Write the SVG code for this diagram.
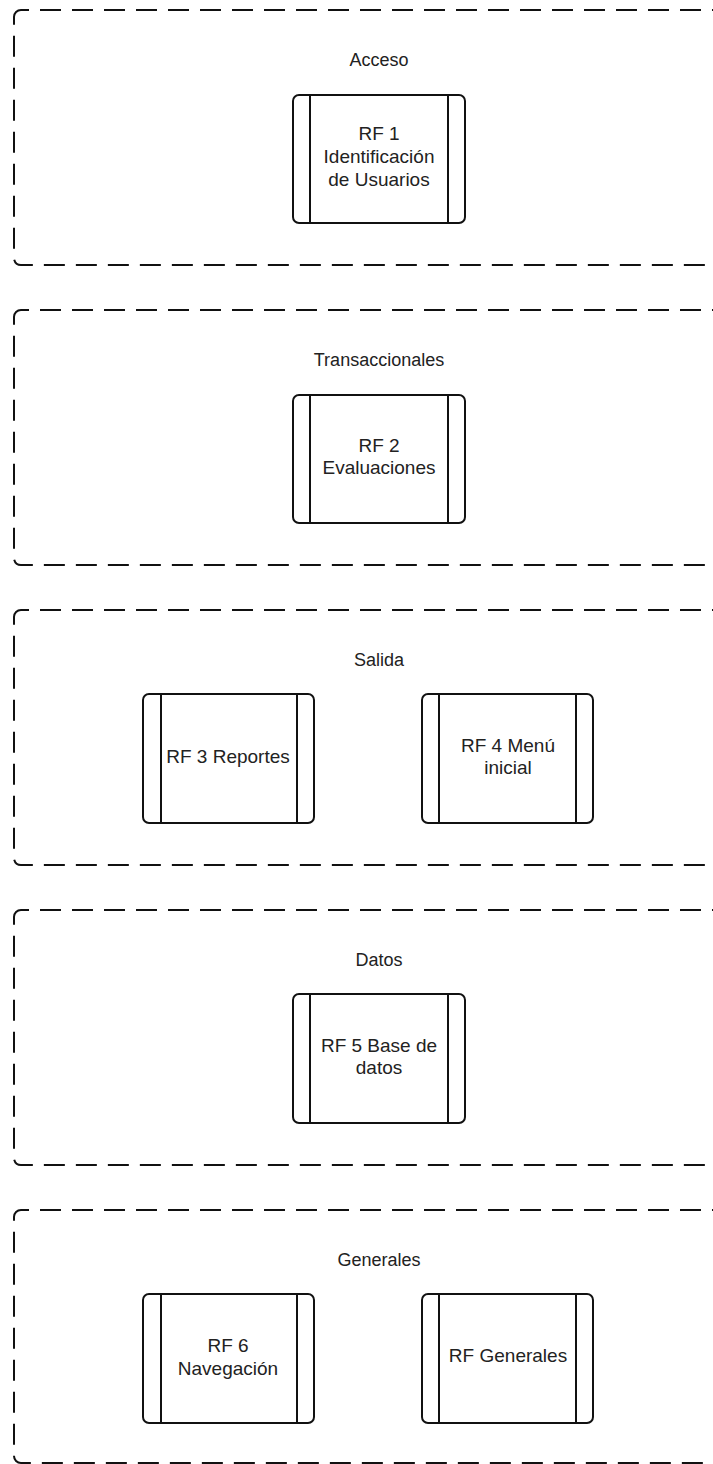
<svg xmlns="http://www.w3.org/2000/svg" width="713" height="1464" viewBox="0 0 713 1464">
  <style>
    .group { fill: none; stroke: #111; stroke-width: 2; stroke-dasharray: 21 11; stroke-dashoffset: 13; }
    .proc { fill: #fff; stroke: #111; stroke-width: 2; }
    .bar { stroke: #111; stroke-width: 2; }
    .title { font-family: "Liberation Sans", Arial, sans-serif; font-size: 18px; fill: #222; text-anchor: middle; }
    .label { font-family: "Liberation Sans", Arial, sans-serif; font-size: 19px; fill: #222; text-anchor: middle; }
  </style>
  <rect width="713" height="1464" fill="#fff"/>

  <!-- Requirement groups (dashed containers, right side runs off the page) -->
  <g id="group-acceso">
    <rect class="group" x="14" y="10" width="730" height="255" rx="7"/>
    <text class="title" x="379" y="66">Acceso</text>
  </g>
  <g id="group-transaccionales">
    <rect class="group" x="14" y="310" width="730" height="255" rx="7"/>
    <text class="title" x="379" y="366">Transaccionales</text>
  </g>
  <g id="group-salida">
    <rect class="group" x="14" y="610" width="730" height="255" rx="7"/>
    <text class="title" x="379" y="666">Salida</text>
  </g>
  <g id="group-datos">
    <rect class="group" x="14" y="910" width="730" height="255" rx="7"/>
    <text class="title" x="379" y="966">Datos</text>
  </g>
  <g id="group-generales">
    <rect class="group" x="14" y="1210" width="730" height="253" rx="7"/>
    <text class="title" x="379" y="1266">Generales</text>
  </g>

  <!-- Predefined-process nodes -->
  <g id="rf1">
    <rect class="proc" x="293" y="95" width="172" height="128" rx="6"/>
    <line class="bar" x1="310" y1="95" x2="310" y2="223"/>
    <line class="bar" x1="448" y1="95" x2="448" y2="223"/>
    <text class="label" x="379" y="140">RF 1</text>
    <text class="label" x="379" y="163">Identificación</text>
    <text class="label" x="379" y="186">de Usuarios</text>
  </g>
  <g id="rf2">
    <rect class="proc" x="293" y="395" width="172" height="128" rx="6"/>
    <line class="bar" x1="310" y1="395" x2="310" y2="523"/>
    <line class="bar" x1="448" y1="395" x2="448" y2="523"/>
    <text class="label" x="379" y="452">RF 2</text>
    <text class="label" x="379" y="474">Evaluaciones</text>
  </g>
  <g id="rf3">
    <rect class="proc" x="143" y="694" width="171" height="129" rx="6"/>
    <line class="bar" x1="161" y1="694" x2="161" y2="823"/>
    <line class="bar" x1="297" y1="694" x2="297" y2="823"/>
    <text class="label" x="228" y="763">RF 3 Reportes</text>
  </g>
  <g id="rf4">
    <rect class="proc" x="422" y="694" width="171" height="129" rx="6"/>
    <line class="bar" x1="439" y1="694" x2="439" y2="823"/>
    <line class="bar" x1="576" y1="694" x2="576" y2="823"/>
    <text class="label" x="508" y="752">RF 4 Menú</text>
    <text class="label" x="508" y="774">inicial</text>
  </g>
  <g id="rf5">
    <rect class="proc" x="293" y="994" width="172" height="129" rx="6"/>
    <line class="bar" x1="310" y1="994" x2="310" y2="1123"/>
    <line class="bar" x1="448" y1="994" x2="448" y2="1123"/>
    <text class="label" x="379" y="1052">RF 5 Base de</text>
    <text class="label" x="379" y="1074">datos</text>
  </g>
  <g id="rf6">
    <rect class="proc" x="143" y="1294" width="171" height="129" rx="6"/>
    <line class="bar" x1="161" y1="1294" x2="161" y2="1423"/>
    <line class="bar" x1="297" y1="1294" x2="297" y2="1423"/>
    <text class="label" x="228" y="1352">RF 6</text>
    <text class="label" x="228" y="1375">Navegación</text>
  </g>
  <g id="rf-generales">
    <rect class="proc" x="422" y="1294" width="171" height="129" rx="6"/>
    <line class="bar" x1="439" y1="1294" x2="439" y2="1423"/>
    <line class="bar" x1="576" y1="1294" x2="576" y2="1423"/>
    <text class="label" x="508" y="1362">RF Generales</text>
  </g>

  <!-- No connectors in this diagram -->
  <g id="connectors"/>
</svg>
